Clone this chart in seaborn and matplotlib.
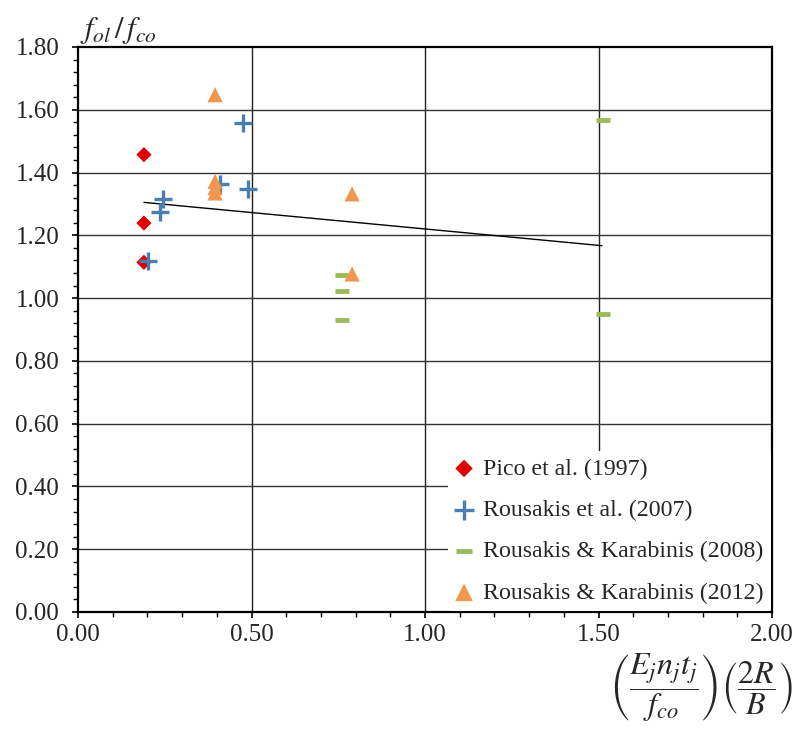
import matplotlib
matplotlib.use("Agg")
import matplotlib.pyplot as plt
import seaborn as sns
import pandas as pd
from matplotlib.ticker import MultipleLocator, FormatStrFormatter

# ---- data ----
pico_x = [0.19, 0.19, 0.19]
pico_y = [1.457, 1.239, 1.114]

r2007_x = [0.475, 0.49, 0.41, 0.246, 0.236, 0.203]
r2007_y = [1.558, 1.348, 1.365, 1.316, 1.273, 1.119]

r2008_x = [1.514, 1.514, 0.76, 0.76, 0.76]
r2008_y = [1.569, 0.950, 1.074, 1.024, 0.930]

r2012_x = [0.395, 0.395, 0.395, 0.395, 0.79, 0.79]
r2012_y = [1.648, 1.372, 1.352, 1.335, 1.332, 1.077]

trend_x = [0.19, 1.51]
trend_y = [1.305, 1.167]

x_ticks = [0.0, 0.5, 1.0, 1.5, 2.0]
y_ticks = [0.0, 0.2, 0.4, 0.6, 0.8, 1.0, 1.2, 1.4, 1.6, 1.8]

labels = ["Pico et al. (1997)", "Rousakis et al. (2007)",
          "Rousakis & Karabinis (2008)", "Rousakis & Karabinis (2012)"]

sns.set_style("white")
plt.rcParams['font.family'] = ['Liberation Serif', 'DejaVu Serif']
plt.rcParams['mathtext.fontset'] = 'stix'

fig = plt.figure(figsize=(7.99, 7.31), dpi=100)
ax = fig.add_axes([78/799, 1-612/731, (772-78)/799, (612-47)/731])

# grid
for xv in x_ticks[1:-1]:
    ax.axvline(xv, color='#222222', lw=1.0, zorder=0)
for yv in y_ticks[1:-1]:
    ax.axhline(yv, color='#333333', lw=1.0, zorder=0)

df_tr = pd.DataFrame({'x': trend_x, 'y': trend_y})
sns.lineplot(data=df_tr, x='x', y='y', ax=ax, color='black', lw=1.0, zorder=2)

sns.scatterplot(x=pico_x, y=pico_y, ax=ax, marker='D', s=60, color='#e00000',
                edgecolor='none', label=labels[0], zorder=3)
sns.scatterplot(x=r2007_x, y=r2007_y, ax=ax, marker='+', s=170, color='#4a7eb0',
                linewidth=2.4, label=labels[1], zorder=3)
sns.scatterplot(x=r2008_x, y=r2008_y, ax=ax, marker='_', s=110, color='#9bbb59',
                linewidth=3.5, label=labels[2], zorder=3)
sns.scatterplot(x=r2012_x, y=r2012_y, ax=ax, marker='^', s=120, color='#f0964f',
                edgecolor='none', label=labels[3], zorder=3)

ax.set_xlim(0, 2.0)
ax.set_ylim(0, 1.8)
ax.set_xticks(x_ticks)
ax.set_yticks(y_ticks)
ax.xaxis.set_minor_locator(MultipleLocator(0.1))
ax.yaxis.set_minor_locator(MultipleLocator(0.04))
ax.xaxis.set_major_formatter(FormatStrFormatter('%.2f'))
ax.yaxis.set_major_formatter(FormatStrFormatter('%.2f'))
ax.tick_params(axis='both', which='major', direction='out', length=4.5, width=1.2,
               labelsize=18, color='black', bottom=True, left=True)
ax.tick_params(axis='both', which='minor', direction='out', length=3.6, width=1.0,
               color='black', bottom=True, left=True)
ax.tick_params(axis='x', pad=4)
ax.tick_params(axis='y', pad=9)
for sp in ax.spines.values():
    sp.set_color('black')
    sp.set_linewidth(1.6)
ax.set_xlabel('')
ax.set_ylabel('')

leg = ax.legend(loc='lower right', bbox_to_anchor=(1.0, 0.0), frameon=True,
                fontsize=17.2, handlelength=0.7, handletextpad=0.45,
                labelspacing=0.82, borderaxespad=0.05, borderpad=0.3,
                markerscale=1.15)
leg.get_frame().set_edgecolor('none')
leg.get_frame().set_facecolor('white')
leg.get_frame().set_alpha(1.0)
leg.set_zorder(5)

fig.text(80/799, 1-30/731, r"$f_{ol}\,/\,f_{co}$", fontsize=22,
         ha='left', va='center')
fig.text(793/799, 1-688/731,
         r"$\left(\dfrac{E_j n_j t_j}{f_{co}}\right)\left(\dfrac{2R}{B}\right)$",
         fontsize=23, ha='right', va='center')

fig.savefig("out.png", dpi=100, facecolor='white')
